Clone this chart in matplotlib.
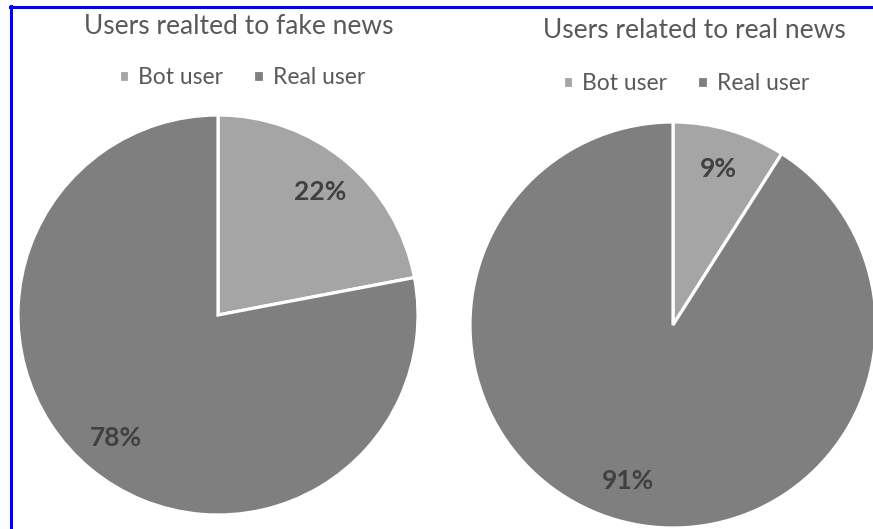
import matplotlib.pyplot as plt
from matplotlib.lines import Line2D

# data
labels = ['Bot user', 'Real user']
fake_news = [22, 78]
real_news = [9, 91]
titles = ['Users realted to fake news', 'Users related to real news']

colors = ['#a5a5a5', '#7f7f7f']
W, H = 873, 529

plt.rcParams['font.family'] = ['Lato', 'DejaVu Sans']
fig = plt.figure(figsize=(W / 100, H / 100), dpi=100)


def px_axes(left, top, size):
    # axes placed in pixel coordinates (origin top-left)
    return fig.add_axes([left / W, (H - top - size) / H, size / W, size / H])


def draw_pie(ax, values):
    wedges, _, autotexts = ax.pie(values, colors=colors, startangle=90, counterclock=False,
                                  autopct='%d%%', pctdistance=0.8,
                                  wedgeprops=dict(edgecolor='white', linewidth=2.3))
    for t in autotexts:
        t.set_fontsize(19)
        t.set_color('#404040')
        t.set_fontweight('bold')
    ax.set_xlim(-1, 1)
    ax.set_ylim(-1, 1)
    for w in wedges:
        w.set_clip_on(False)
    return wedges


ax1 = px_axes(18, 115, 400)
w1 = draw_pie(ax1, fake_news)
ax2 = px_axes(470, 122, 406)
w2 = draw_pie(ax2, real_news)

# titles
fig.text(239 / W, 1 - 27 / H, titles[0], ha='center', va='center', fontsize=19, color='#595959')
fig.text(694 / W, 1 - 31 / H, titles[1], ha='center', va='center', fontsize=19, color='#595959')

# legends
for wedges, cx, cy in [(w1, 242, 78), (w2, 686, 84)]:
    fig.legend(wedges, labels, loc='center', bbox_to_anchor=(cx / W, 1 - cy / H), ncol=2,
               frameon=False, fontsize=16.5, labelcolor='#595959', handlelength=0.45,
               handleheight=0.45, handletextpad=0.4, columnspacing=1.3)

# blue frame (top and left edges)
fig.add_artist(Line2D([10 / W, 1], [1 - 7 / H, 1 - 7 / H], color='#0000ff', linewidth=2.2,
                      transform=fig.transFigure))
fig.add_artist(Line2D([11 / W, 11 / W], [0, 1 - 6 / H], color='#0000ff', linewidth=2.2,
                      transform=fig.transFigure))

fig.savefig('out.png', dpi=100)
